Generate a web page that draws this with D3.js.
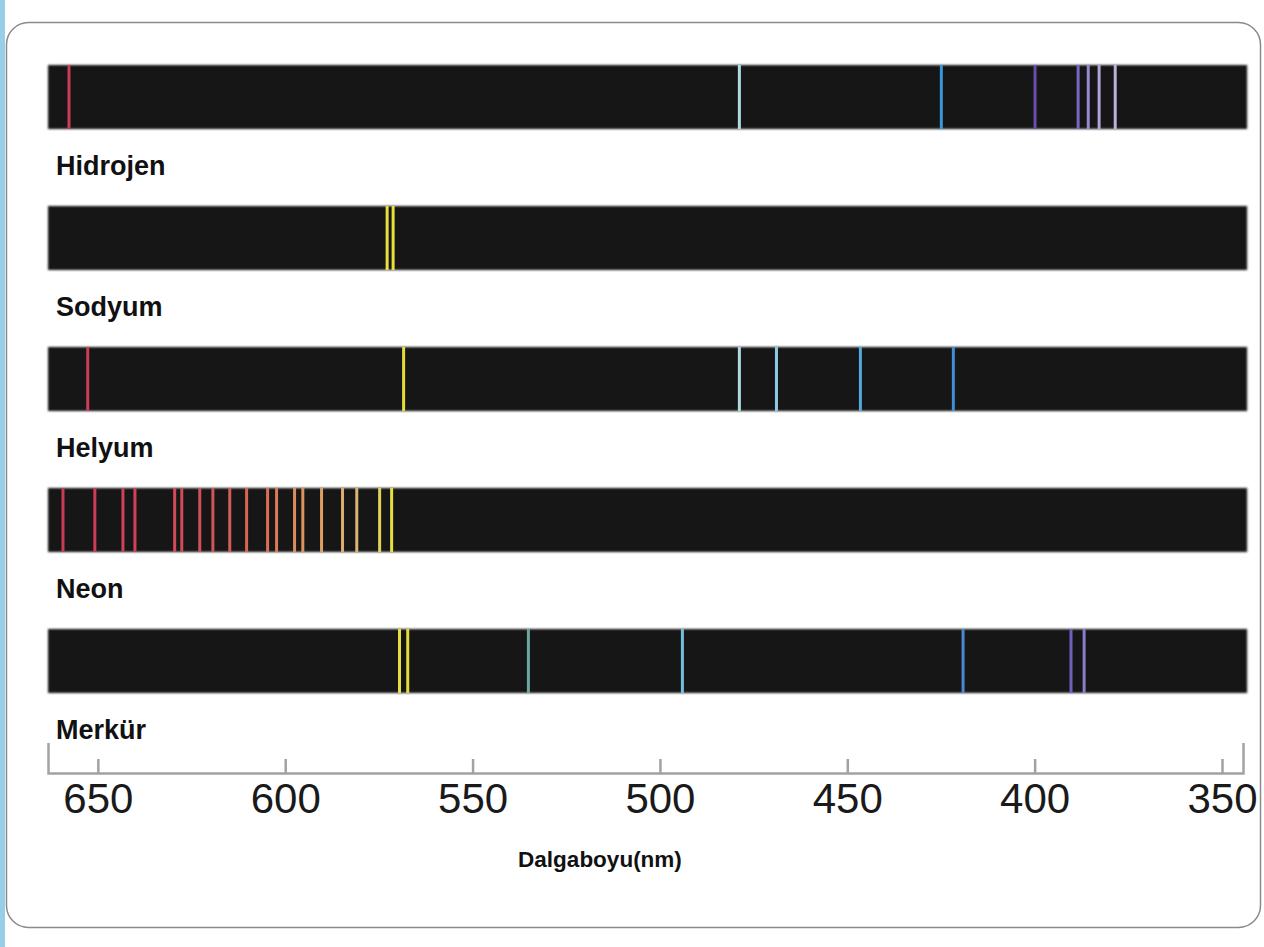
<!DOCTYPE html>
<html lang="tr">

<head>
  <meta charset="UTF-8">
  <title>Spektrum</title>
  <script src="https://cdn.jsdelivr.net/npm/d3@7"></script>
  <style>
    html, body { margin: 0; padding: 0; background: #fff; }
    svg { display: block; }
    .label { font-family: "Liberation Sans", Arial, sans-serif; font-weight: bold; font-size: 27px; fill: #111; }
    .axis text { font-family: "Liberation Sans", Arial, sans-serif; font-size: 42px; fill: #1a1a1a; }
    .axis path, .axis line { stroke: #a2a2a2; stroke-width: 2.5; }
  </style>
</head>

<body>
  <svg id="chart"></svg>
</body>

</html>
<script>
  const width = 1264, height = 947;

  // element names, top to bottom
  const elements = ['Hidrojen', 'Sodyum', 'Helyum', 'Neon', 'Merkür'];

  // emission lines in nm
  const hidrojenLines = [657.7, 478.8, 424.9, 399.9, 388.4, 385.7, 382.8, 378.5];
  const sodyumLines = [572.8, 571.2];
  const helyumLines = [652.7, 568.4, 478.8, 468.9, 446.5, 421.7];
  const neonLines = [659.3, 650.8, 643.3, 640.1, 629.5, 627.6, 622.8, 619.3, 614.8, 610.3,
    604.7, 602.3, 597.5, 595.3, 590.3, 584.7, 580.9, 574.8, 571.6];
  const merkurLines = [569.5, 567.3, 535.1, 494.0, 419.1, 390.3, 386.8];

  const spectra = [hidrojenLines, sodyumLines, helyumLines, neonLines, merkurLines];

  // axis
  const tickValues = [650, 600, 550, 500, 450, 400, 350];
  const axisTitle = 'Dalgaboyu(nm)';
  const nmStart = 663.3, nmEnd = 344.4;

  // colour of a line as seen in the picture, by wavelength
  const colorStops = [665, 640, 620, 605, 597, 585, 578, 573, 560, 535, 494, 479, 469, 446, 425, 419, 400, 389, 384, 375];
  const colorValues = ['#c83a55', '#d0405c', '#d05458', '#dc6e55', '#dc9058', '#dcae6c', '#d8bc78', '#e8e040',
    '#e0d830', '#6aa8a0', '#70c0d8', '#b0dce0', '#8ccce6', '#50a8e0', '#3a96d8', '#4a88d0', '#6a4cb0',
    '#7060c0', '#b0a0d4', '#c8b8e0'];

  const svg = d3.select('#chart').attr('width', width).attr('height', height);

  const defs = svg.append('defs');
  defs.append('filter').attr('id', 'soft')
    .attr('x', '-5%').attr('y', '-20%').attr('width', '110%').attr('height', '140%')
    .append('feGaussianBlur').attr('stdDeviation', 0.8);
  defs.append('filter').attr('id', 'glow')
    .attr('x', '-200%').attr('y', '-5%').attr('width', '500%').attr('height', '110%')
    .append('feGaussianBlur').attr('stdDeviation', 0.6);

  // left blue strip + card
  svg.append('rect').attr('x', 0).attr('y', 0).attr('width', 5).attr('height', height).attr('fill', '#96cfe6');
  svg.append('rect')
    .attr('x', 6.5).attr('y', 22.5)
    .attr('width', 1254).attr('height', 905)
    .attr('rx', 22)
    .attr('fill', '#fff')
    .attr('stroke', '#8a8a8a')
    .attr('stroke-width', 1.5);

  const x = d3.scaleLinear().domain([nmStart, nmEnd]).range([48, 1243]);
  const color = d3.scaleLinear().domain(colorStops).range(colorValues).clamp(true);

  const y = d3.scaleBand()
    .domain(elements)
    .range([65, 693])
    .paddingInner(0.546)
    .paddingOuter(0);

  const rows = svg.selectAll('g.row')
    .data(elements.map((name, i) => ({ name, lines: spectra[i] })))
    .join('g')
    .attr('class', 'row')
    .attr('transform', d => `translate(0,${y(d.name)})`);

  rows.append('rect')
    .attr('x', x(nmStart))
    .attr('width', x(343.3) - x(nmStart))
    .attr('height', y.bandwidth())
    .attr('fill', '#151515')
    .attr('filter', 'url(#soft)');

  rows.append('g')
    .attr('filter', 'url(#glow)')
    .selectAll('line')
    .data(d => d.lines)
    .join('line')
    .attr('x1', d => x(d))
    .attr('x2', d => x(d))
    .attr('y1', 0)
    .attr('y2', y.bandwidth())
    .attr('stroke', d => color(d))
    .attr('stroke-width', 3);

  rows.append('text')
    .attr('class', 'label')
    .attr('x', 56)
    .attr('y', y.bandwidth() + 46)
    .text(d => d.name);

  // wavelength axis
  const axis = svg.append('g')
    .attr('class', 'axis')
    .attr('transform', 'translate(0,773)')
    .call(d3.axisBottom(x)
      .tickValues(tickValues)
      .tickSizeInner(-14)
      .tickSizeOuter(-30)
      .tickPadding(10));
  axis.selectAll('.tick text').attr('font-family', null).attr('font-size', null);

  svg.append('text')
    .attr('class', 'label')
    .attr('x', 600)
    .attr('y', 867)
    .attr('text-anchor', 'middle')
    .style('font-size', '22.5px')
    .text(axisTitle);
</script>
